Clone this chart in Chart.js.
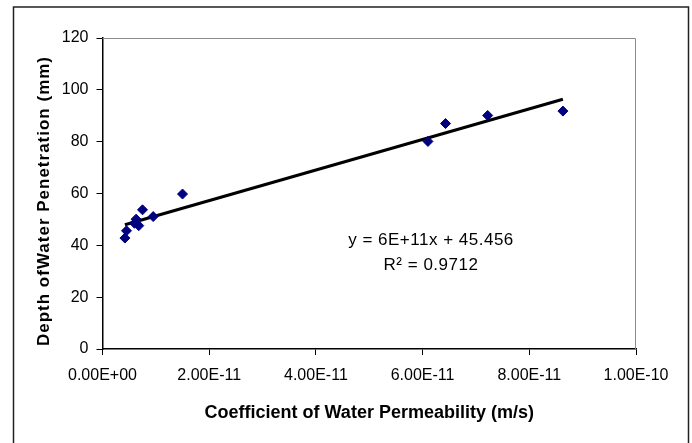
<!DOCTYPE html>
<html>
<head>
<meta charset="utf-8">
<script src="https://cdn.jsdelivr.net/npm/chart.js@4.4.1/dist/chart.umd.min.js"></script>
<style>
  html, body { margin: 0; padding: 0; background: #fff; }
  canvas { display: block; }
</style>
</head>
<body>
<canvas id="chart" width="692" height="443"></canvas>
<script>
// coefficient of water permeability (m/s) vs depth of water penetration (mm)
var permeability = [4.2e-12, 4.5e-12, 6.0e-12, 6.3e-12, 6.8e-12, 7.5e-12, 9.5e-12, 1.5e-11, 6.1e-11, 6.43e-11, 7.22e-11, 8.63e-11];
var depth = [42.8, 45.6, 48.5, 50.1, 47.6, 53.7, 51.1, 59.8, 80.1, 87.0, 90.1, 91.8];

// linear trendline as printed on the chart
var trendSlope = 5.9e11;
var trendIntercept = 45.456;
var trendLabel = ["y = 6E+11x + 45.456", "R\u00B2 = 0.9712"];

var xTicks = [0, 2e-11, 4e-11, 6e-11, 8e-11, 1e-10];
var yTicks = [0, 20, 40, 60, 80, 100, 120];

var xTitle = "Coefficient of Water Permeability (m/s)";
var yTitle = "Depth ofWater Penetration (mm)";

var FONT = "'Liberation Sans', Arial, sans-serif";

function fmtExp(v) {
    var s = Number(v).toExponential(2).toUpperCase();   // e.g. 2.00E-11
    var parts = s.split("E");
    var sign = parts[1].charAt(0);
    var digits = parts[1].slice(1);
    if (digits.length < 2) digits = "0" + digits;
    return parts[0] + "E" + sign + digits;
}

var points = [];
for (var i = 0; i < permeability.length; i++) {
    points.push({ x: permeability[i], y: depth[i] });
}
var xMin = Math.min.apply(null, permeability);
var xMax = Math.max.apply(null, permeability);
var trendPoints = [
    { x: xMin, y: trendSlope * xMin + trendIntercept },
    { x: xMax, y: trendSlope * xMax + trendIntercept }
];

var framePlugin = {
    id: 'frame',
    beforeDraw: function (chart) {
        var ctx = chart.ctx;
        ctx.save();
        ctx.fillStyle = '#fff';
        ctx.fillRect(0, 0, chart.width, chart.height);
        ctx.strokeStyle = '#222';
        ctx.lineWidth = 1.5;
        ctx.strokeRect(13.5, 7, 675, 460);
        ctx.restore();
    },
    beforeDatasetsDraw: function (chart) {
        var a = chart.chartArea;
        var ctx = chart.ctx;
        ctx.save();
        ctx.strokeStyle = '#8c8c8c';
        ctx.lineWidth = 1;
        ctx.beginPath();
        ctx.moveTo(a.left, a.top + 0.5);
        ctx.lineTo(a.right - 0.5, a.top + 0.5);
        ctx.lineTo(a.right - 0.5, a.bottom);
        ctx.stroke();
        ctx.restore();
    },
    afterDraw: function (chart) {
        var ctx = chart.ctx;
        ctx.save();
        // y axis title, rotated
        ctx.translate(44, 201);
        ctx.rotate(-Math.PI / 2);
        ctx.font = "bold 17px " + FONT;
        ctx.letterSpacing = "1px";
        ctx.fillStyle = '#000';
        ctx.textAlign = 'center';
        ctx.textBaseline = 'middle';
        ctx.fillText(yTitle, 0, 0);
        ctx.restore();

        // trendline equation
        ctx.save();
        ctx.font = "17px " + FONT;
        ctx.letterSpacing = "0.5px";
        ctx.fillStyle = '#000';
        ctx.textAlign = 'center';
        ctx.textBaseline = 'middle';
        ctx.fillText(trendLabel[0], 431, 240);
        ctx.fillText(trendLabel[1], 431, 265);
        ctx.restore();
    }
};

new Chart(document.getElementById("chart"), {
    type: 'scatter',
    data: {
        datasets: [
            {
                type: 'line',
                data: trendPoints,
                borderColor: '#000',
                borderWidth: 3,
                pointRadius: 0,
                fill: false,
                order: 2
            },
            {
                data: points,
                backgroundColor: '#000080',
                borderColor: '#000080',
                borderWidth: 1,
                pointStyle: 'rectRot',
                pointRadius: 5,
                order: 1
            }
        ]
    },
    options: {
        responsive: false,
        animation: false,
        layout: { padding: { top: 38, right: 56, left: 0, bottom: 0 } },
        plugins: {
            legend: { display: false },
            tooltip: { enabled: false }
        },
        scales: {
            x: {
                type: 'linear',
                min: 0,
                max: 1e-10,
                afterBuildTicks: function (scale) {
                    scale.ticks = xTicks.map(function (v) { return { value: v }; });
                },
                afterFit: function (scale) { scale.height = 94; },
                grid: { drawOnChartArea: false, drawTicks: true, tickLength: 6, tickColor: '#000' },
                border: { display: true, color: '#000', width: 1.5 },
                ticks: {
                    color: '#000',
                    padding: 11,
                    maxRotation: 0,
                    font: { family: FONT, size: 16 },
                    callback: function (v) { return fmtExp(v); }
                },
                title: {
                    display: true,
                    text: xTitle,
                    color: '#000',
                    font: { family: FONT, size: 18, weight: 'bold' },
                    padding: { top: 4, bottom: 19 }
                }
            },
            y: {
                min: 0,
                max: 120,
                afterBuildTicks: function (scale) {
                    scale.ticks = yTicks.map(function (v) { return { value: v }; });
                },
                afterFit: function (scale) { scale.width = 102.5; },
                grid: { drawOnChartArea: false, drawTicks: true, tickLength: 6, tickColor: '#000' },
                border: { display: true, color: '#000', width: 1.5 },
                ticks: {
                    color: '#000',
                    padding: 8,
                    font: { family: FONT, size: 16 }
                }
            }
        }
    },
    plugins: [framePlugin]
});
</script>
</body>
</html>
